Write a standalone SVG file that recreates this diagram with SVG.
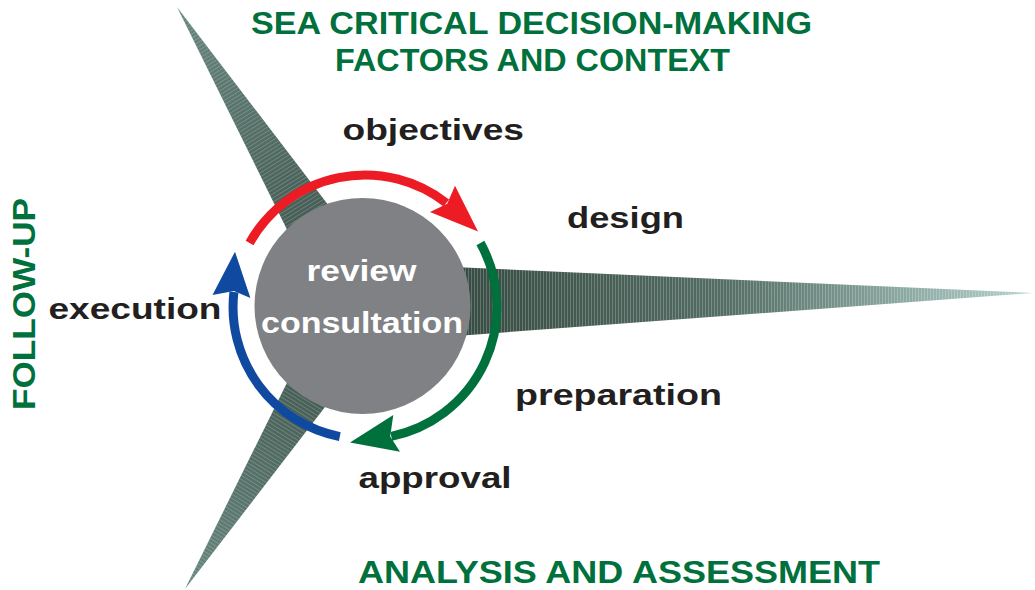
<svg xmlns="http://www.w3.org/2000/svg" width="1035" height="590" viewBox="0 0 1035 590">
<style>
.lbl{font-family:"Liberation Sans",Arial,Helvetica,sans-serif;font-weight:bold;font-size:30px;fill:#231f20}
.ttl{font-family:"Liberation Sans",Arial,Helvetica,sans-serif;font-weight:bold;font-size:31px;fill:#00703c}
.in{font-family:"Liberation Sans",Arial,Helvetica,sans-serif;font-weight:bold;font-size:30px;fill:#ffffff}
.arc{fill:none;stroke-width:9;stroke-linecap:butt}
</style>
<defs>
<linearGradient id="gR" gradientUnits="userSpaceOnUse" x1="470" y1="300" x2="1033" y2="293">
<stop offset="0" stop-color="#384d43"/><stop offset="0.45" stop-color="#536d64"/><stop offset="1" stop-color="#b4d3ce"/>
</linearGradient>
<linearGradient id="gTL" gradientUnits="userSpaceOnUse" x1="362" y1="305" x2="177" y2="7">
<stop offset="0" stop-color="#364b41"/><stop offset="1" stop-color="#688780"/>
</linearGradient>
<linearGradient id="gBL" gradientUnits="userSpaceOnUse" x1="362" y1="305" x2="185" y2="589">
<stop offset="0" stop-color="#364b41"/><stop offset="1" stop-color="#688780"/>
</linearGradient>
<pattern id="pR" width="3" height="4" patternUnits="userSpaceOnUse"><rect width="1" height="4" fill="#ffffff" fill-opacity="0.22"/></pattern>
<pattern id="pTL" width="3.5" height="4" patternUnits="userSpaceOnUse" patternTransform="rotate(58.2)"><rect width="1" height="4" fill="#ffffff" fill-opacity="0.2"/></pattern>
<pattern id="pBL" width="3.5" height="4" patternUnits="userSpaceOnUse" patternTransform="rotate(-58.1)"><rect width="1" height="4" fill="#ffffff" fill-opacity="0.2"/></pattern>
</defs>

<g id="blade-top">
<polygon points="177,7 390.9,287.1 333.1,322.9" fill="url(#gTL)"/>
<polygon points="177,7 390.9,287.1 333.1,322.9" fill="url(#pTL)"/>
</g>
<g id="blade-bottom">
<polygon points="185,589 390,322.5 334,287.5" fill="url(#gBL)"/>
<polygon points="185,589 390,322.5 334,287.5" fill="url(#pBL)"/>
</g>
<g id="blade-right">
<polygon points="1033,293 362,343 362,263" fill="url(#gR)"/>
<polygon points="1033,293 362,343 362,263" fill="url(#pR)"/>
</g>

<g id="center">
<circle cx="362.5" cy="306" r="108" fill="#808184"/>
<text class="in" x="306.5" y="281" textLength="110" lengthAdjust="spacingAndGlyphs">review</text>
<text class="in" x="261" y="333" textLength="202" lengthAdjust="spacingAndGlyphs">consultation</text>
</g>

<g id="connectors">
<path class="arc" stroke="#ed1c24" d="M 249.6 243.0 A 132 132 0 0 1 446.3 203.0"/>
<polygon fill="#ed1c24" points="430,212.1 447.2,203.7 455,185.8 478,231.5"/>
<path class="arc" stroke="#00713d" d="M 480.4 243.0 A 132 132 0 0 1 391.3 436.3"/>
<polygon fill="#00713d" points="393.3,415 390.2,436.6 400,451.7 350,442.5"/>
<path class="arc" stroke="#0f4aa0" d="M 339.8 436.6 A 132 132 0 0 1 233.9 292.1"/>
<polygon fill="#0f4aa0" points="250.4,298 234,290.9 212.5,295 235,251.7"/>
</g>

<g id="titles">
<text class="ttl" x="251" y="34" textLength="561" lengthAdjust="spacingAndGlyphs">SEA CRITICAL DECISION-MAKING</text>
<text class="ttl" x="335" y="71" textLength="395" lengthAdjust="spacingAndGlyphs">FACTORS AND CONTEXT</text>
<text class="ttl" x="358" y="583" textLength="522" lengthAdjust="spacingAndGlyphs">ANALYSIS AND ASSESSMENT</text>
<text class="ttl" transform="translate(35,410) rotate(-90)" x="0" y="0" textLength="212" lengthAdjust="spacingAndGlyphs">FOLLOW-UP</text>
</g>

<g id="labels">
<text class="lbl" x="342.5" y="140" textLength="181.5" lengthAdjust="spacingAndGlyphs">objectives</text>
<text class="lbl" x="567" y="228" textLength="117" lengthAdjust="spacingAndGlyphs">design</text>
<text class="lbl" x="48.5" y="318.5" textLength="173" lengthAdjust="spacingAndGlyphs">execution</text>
<text class="lbl" x="515" y="405" textLength="207" lengthAdjust="spacingAndGlyphs">preparation</text>
<text class="lbl" x="358.5" y="487.5" textLength="153" lengthAdjust="spacingAndGlyphs">approval</text>
</g>
</svg>
